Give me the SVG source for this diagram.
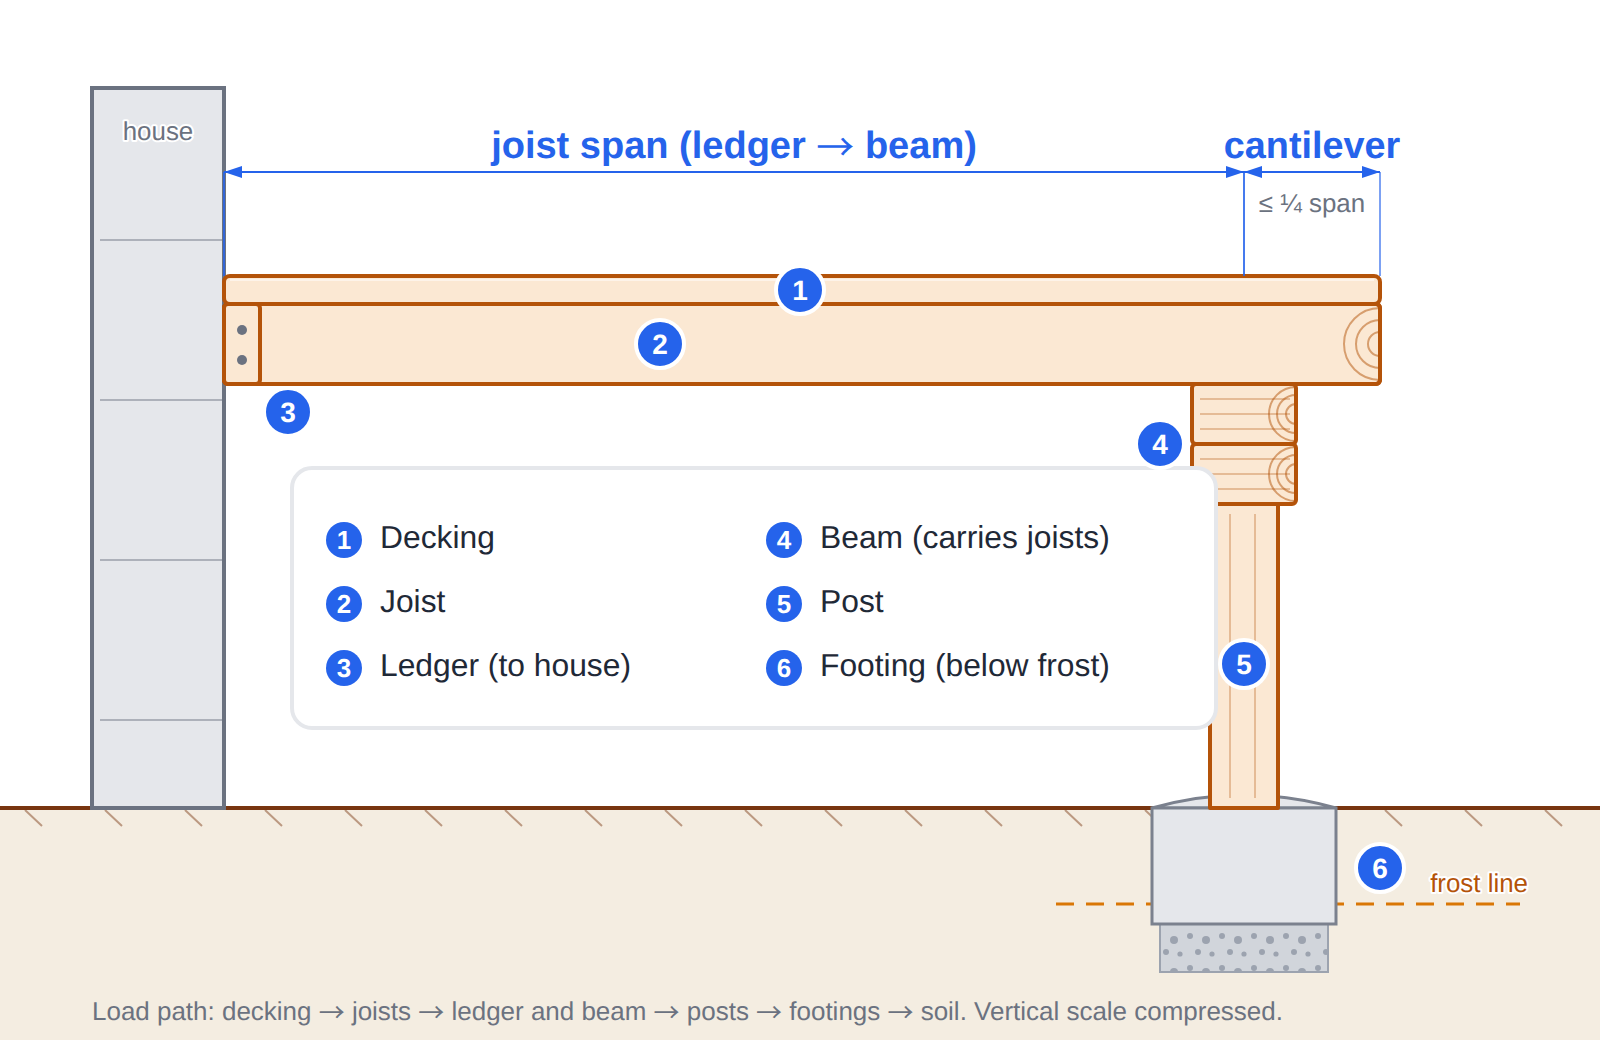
<svg xmlns="http://www.w3.org/2000/svg" width="1600" height="1040" viewBox="0 0 1600 1040">
  <style>
    text { font-family: "Liberation Sans", Arial, sans-serif; text-rendering: geometricPrecision; }
    .arr { font-family: "Noto Sans CJK SC", "Liberation Sans", sans-serif; font-weight: 400; }
    .wood { fill: #fbe8d3; stroke: #b45309; stroke-width: 4; stroke-linejoin: round; }
    .ring { fill: none; stroke: #b45309; stroke-width: 2; opacity: 0.5; }
    .grain { stroke: #b45309; stroke-width: 2; opacity: 0.3; fill: none; }
    .tick { stroke: #78350f; stroke-width: 2; opacity: 0.45; }
    .siding { stroke: #6b7280; stroke-width: 2; opacity: 0.45; }
    .dim { stroke: #2563eb; stroke-width: 2; fill: none; }
    .dimtext { fill: #2563eb; font-size: 37.8px; font-weight: 700; text-anchor: middle; }
    .note { fill: #6b7280; font-size: 25.9px; }
    .halo { paint-order: stroke; stroke: #fff; stroke-width: 4px; stroke-linejoin: round; }
    .badge circle { fill: #2563eb; stroke: #fff; stroke-width: 4; }
    .badge text { fill: #fff; font-size: 28px; font-weight: 700; text-anchor: middle; }
    .key circle { fill: #2563eb; }
    .key text.n { fill: #fff; font-size: 26px; font-weight: 700; text-anchor: middle; }
    .key text.t { fill: #1f2937; font-size: 31.8px; }
  </style>
  <defs>
    <marker id="arrow" viewBox="0 0 18 12" refX="18" refY="6" markerWidth="18" markerHeight="12" markerUnits="userSpaceOnUse" orient="auto-start-reverse">
      <path d="M0 0 L18 6 L0 12 Z" fill="#2563eb"/>
    </marker>
    <pattern id="gravel" x="1152" y="928" width="32" height="32" patternUnits="userSpaceOnUse">
      <circle cx="22" cy="12" r="4" fill="#9ca3af"/>
      <circle cx="6" cy="8" r="3" fill="#9ca3af"/>
      <circle cx="14" cy="24" r="3" fill="#9ca3af"/>
      <circle cx="28" cy="26" r="2.6" fill="#9ca3af"/>
    </pattern>
    <clipPath id="joistEnd"><rect x="224" y="304" width="1156" height="80" rx="4"/></clipPath>
    <clipPath id="beamEnd1"><rect x="1192" y="384" width="104" height="60" rx="4"/></clipPath>
    <clipPath id="beamEnd2"><rect x="1192" y="444" width="104" height="60" rx="4"/></clipPath>
  </defs>

  <g id="soil">
    <rect x="0" y="808" width="1600" height="232" fill="#f4ede1"/>
    <line x1="0" y1="808" x2="1600" y2="808" stroke="#78350f" stroke-width="4"/>
    <path class="tick" d="M25 810L42 826M105 810L122 826M185 810L202 826M265 810L282 826M345 810L362 826M425 810L442 826M505 810L522 826M585 810L602 826M665 810L682 826M745 810L762 826M825 810L842 826M905 810L922 826M985 810L1002 826M1065 810L1082 826M1145 810L1162 826M1385 810L1402 826M1465 810L1482 826M1545 810L1562 826"/>
  </g>

  <g id="frost-line">
    <line x1="1056" y1="904" x2="1520" y2="904" stroke="#d97706" stroke-width="3" stroke-dasharray="18 12"/>
    <text x="1528" y="892" text-anchor="end" font-size="25.9" fill="#b45309" class="halo">frost line</text>
  </g>

  <g id="house">
    <rect x="92" y="88" width="132" height="720" fill="#e5e7eb" stroke="#6b7280" stroke-width="4"/>
    <path class="siding" d="M100 240H222M100 400H222M100 560H222M100 720H222"/>
    <text x="158" y="140" text-anchor="middle" class="note halo">house</text>
  </g>

  <g id="footing">
    <rect x="1160" y="924" width="168" height="48" fill="#d1d5db" stroke="#9ca3af" stroke-width="2"/>
    <rect x="1160" y="924" width="168" height="48" fill="url(#gravel)"/>
    <path d="M1152 808 Q1244 782 1336 808 Z" fill="#e5e7eb" stroke="#7b818e" stroke-width="3"/>
    <rect x="1152" y="808" width="184" height="116" fill="#e5e7eb" stroke="#7b818e" stroke-width="3"/>
  </g>

  <g id="post">
    <rect class="wood" x="1210" y="504" width="68" height="304"/>
    <path class="grain" d="M1230 514V798M1255 514V798"/>
  </g>

  <g id="beam">
    <rect class="wood" x="1192" y="384" width="104" height="60" rx="4"/>
    <path class="grain" d="M1200 399H1290M1200 414H1290M1200 429H1290"/>
    <g clip-path="url(#beamEnd1)">
      <circle class="ring" cx="1296" cy="414" r="27"/>
      <circle class="ring" cx="1296" cy="414" r="19"/>
      <circle class="ring" cx="1296" cy="414" r="10"/>
    </g>
    <rect class="wood" x="1192" y="444" width="104" height="60" rx="4"/>
    <path class="grain" d="M1200 459H1290M1200 474H1290M1200 489H1290"/>
    <g clip-path="url(#beamEnd2)">
      <circle class="ring" cx="1296" cy="474" r="27"/>
      <circle class="ring" cx="1296" cy="474" r="19"/>
      <circle class="ring" cx="1296" cy="474" r="10"/>
    </g>
  </g>

  <g id="joist">
    <rect class="wood" x="224" y="304" width="1156" height="80" rx="4"/>
    <g clip-path="url(#joistEnd)">
      <circle class="ring" cx="1380" cy="344" r="36"/>
      <circle class="ring" cx="1380" cy="344" r="24"/>
      <circle class="ring" cx="1380" cy="344" r="12"/>
    </g>
    <rect x="224" y="304" width="1156" height="80" rx="4" fill="none" stroke="#b45309" stroke-width="4"/>
  </g>

  <g id="ledger">
    <rect class="wood" x="224" y="304" width="36" height="80" rx="4"/>
    <circle cx="242" cy="330" r="5" fill="#6b7280"/>
    <circle cx="242" cy="360" r="5" fill="#6b7280"/>
  </g>

  <g id="decking">
    <rect class="wood" x="224" y="276" width="1156" height="28" rx="6"/>
    <line x1="230" y1="280" x2="1374" y2="280" stroke="#fff" stroke-width="2" opacity="0.5"/>
  </g>

  <g id="connectors">
    <line class="dim" x1="224" y1="172" x2="224" y2="276" stroke-opacity="0.8"/>
    <line class="dim" x1="1244" y1="172" x2="1244" y2="276" stroke-opacity="0.85"/>
    <line class="dim" x1="1380" y1="172" x2="1380" y2="276" stroke-opacity="0.6"/>
    <line class="dim" x1="224" y1="172" x2="1244" y2="172" marker-start="url(#arrow)" marker-end="url(#arrow)"/>
    <line class="dim" x1="1244" y1="172" x2="1380" y2="172" marker-start="url(#arrow)" marker-end="url(#arrow)"/>
  </g>

  <g id="dimension-labels">
    <text class="dimtext" x="734" y="158" style="font-size:38px">joist span (ledger <tspan class="arr" dy="3">→</tspan><tspan dy="-3"> beam)</tspan></text>
    <text class="dimtext" x="1312" y="158">cantilever</text>
    <text class="note" x="1312" y="212" text-anchor="middle">≤ ¼ span</text>
  </g>

  <g id="legend">
    <rect x="292" y="468" width="924" height="260" rx="20" fill="#fff" stroke="#e5e7eb" stroke-width="4"/>
    <g class="key">
      <circle cx="344" cy="540" r="18"/><text class="n" x="344" y="549">1</text><text class="t" x="380" y="548">Decking</text>
      <circle cx="344" cy="604" r="18"/><text class="n" x="344" y="613">2</text><text class="t" x="380" y="612">Joist</text>
      <circle cx="344" cy="668" r="18"/><text class="n" x="344" y="677">3</text><text class="t" x="380" y="676">Ledger (to house)</text>
      <circle cx="784" cy="540" r="18"/><text class="n" x="784" y="549">4</text><text class="t" x="820" y="548">Beam (carries joists)</text>
      <circle cx="784" cy="604" r="18"/><text class="n" x="784" y="613">5</text><text class="t" x="820" y="612">Post</text>
      <circle cx="784" cy="668" r="18"/><text class="n" x="784" y="677">6</text><text class="t" x="820" y="676">Footing (below frost)</text>
    </g>
  </g>

  <g id="badges">
    <g id="badge-1" class="badge"><circle cx="800" cy="290" r="24"/><text x="800" y="300">1</text></g>
    <g id="badge-2" class="badge"><circle cx="660" cy="344" r="24"/><text x="660" y="354">2</text></g>
    <g id="badge-3" class="badge"><circle cx="288" cy="412" r="24"/><text x="288" y="422">3</text></g>
    <g id="badge-4" class="badge"><circle cx="1160" cy="444" r="24"/><text x="1160" y="454">4</text></g>
    <g id="badge-5" class="badge"><circle cx="1244" cy="664" r="24"/><text x="1244" y="674">5</text></g>
    <g id="badge-6" class="badge"><circle cx="1380" cy="868" r="24"/><text x="1380" y="878">6</text></g>
  </g>

  <text class="note" x="92" y="1020" style="font-size:25.97px">Load path: decking <tspan class="arr" dy="2">→</tspan><tspan dy="-2"> joists </tspan><tspan class="arr" dy="2">→</tspan><tspan dy="-2"> ledger and beam </tspan><tspan class="arr" dy="2">→</tspan><tspan dy="-2"> posts </tspan><tspan class="arr" dy="2">→</tspan><tspan dy="-2"> footings </tspan><tspan class="arr" dy="2">→</tspan><tspan dy="-2"> soil. Vertical scale compressed.</tspan></text>
</svg>
